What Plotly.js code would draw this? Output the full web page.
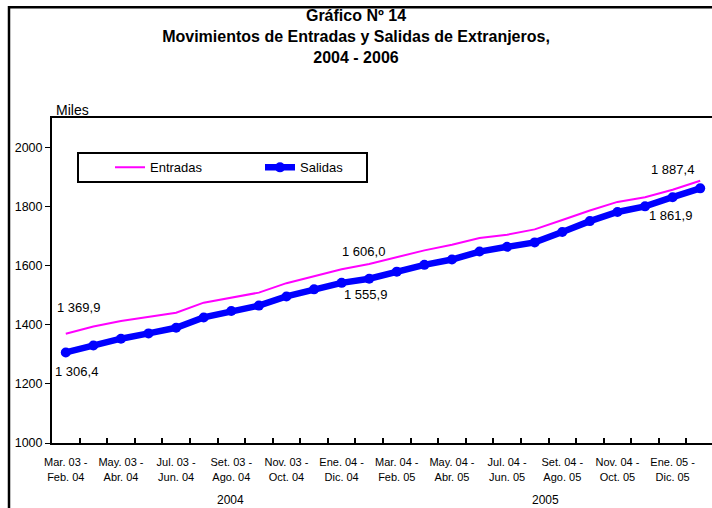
<!DOCTYPE html>
<html>
<head>
<meta charset="utf-8">
<script src="https://cdn.plot.ly/plotly-3.0.1.min.js"></script>
<style>
  html, body { margin: 0; padding: 0; background: #fff; overflow: hidden; }
  #chart { width: 716px; height: 508px; }
</style>
</head>
<body>
<div id="chart"></div>
<script>
// ---- Data ----
const categories = [
  'Mar. 03 - Feb. 04', 'Abr. 03 - Mar. 04', 'May. 03 - Abr. 04', 'Jun. 03 - May. 04',
  'Jul. 03 - Jun. 04', 'Ago. 03 - Jul. 04', 'Set. 03 - Ago. 04', 'Oct. 03 - Set. 04',
  'Nov. 03 - Oct. 04', 'Dic. 03 - Nov. 04', 'Ene. 04 - Dic. 04', 'Feb. 04 - Ene. 05',
  'Mar. 04 - Feb. 05', 'Abr. 04 - Mar. 05', 'May. 04 - Abr. 05', 'Jun. 04 - May. 05',
  'Jul. 04 - Jun. 05', 'Ago. 04 - Jul. 05', 'Set. 04 - Ago. 05', 'Oct. 04 - Set. 05',
  'Nov. 04 - Oct. 05', 'Dic. 04 - Nov. 05', 'Ene. 05 - Dic. 05', 'Feb. 05 - Ene. 06'
];
const entradas = [1369.9, 1394, 1413, 1426, 1441, 1475, 1492, 1509, 1541, 1565, 1588, 1606.0,
                  1630, 1652, 1671, 1694, 1705, 1723, 1755, 1787, 1816, 1832, 1857, 1887.4];
const salidas  = [1306.4, 1330, 1353, 1371, 1390, 1425, 1447, 1465, 1496, 1520, 1542, 1555.9,
                  1580, 1603, 1621, 1648, 1664, 1679, 1714, 1751, 1782, 1801, 1832, 1861.9];
const yTicks = [1000, 1200, 1400, 1600, 1800, 2000];
const yearLabels = ['2004', '2005'];
const labelIdx = [0, 11, 23];

// ---- Helpers ----
function fmt(v) {
  const parts = v.toFixed(1).split('.');
  const intPart = parts[0].replace(/\B(?=(\d{3})+(?!\d))/g, ' ');
  return intPart + ',' + parts[1];
}
const tickText = categories.map((c, i) => {
  if (i % 2 !== 0) return '';
  const p = c.split(' - ');
  return p[0] + ' -<br>' + p[1];
});

const FONT = '"Liberation Sans", Arial, sans-serif';
// plot area in pixels (for paper-coordinate conversion of decorations)
const PL = 52, PW = 662, PT = 118, PH = 325.5;
const px = v => (v - PL) / PW;
const py = v => (PT + PH - v) / PH;

const traces = [
  {
    x: categories, y: entradas, name: 'Entradas', type: 'scatter', mode: 'lines',
    line: { color: '#FF00FF', width: 2 }
  },
  {
    x: categories, y: salidas, name: 'Salidas', type: 'scatter', mode: 'lines+markers',
    line: { color: '#0000FF', width: 6.5 },
    marker: { color: '#0000FF', size: 10 }
  }
];

// data label placements (style only)
const labelStyle = {
  0:  { e: { xanchor: 'left', xshift: -11, yshift: 26 },   s: { xanchor: 'left', xshift: -13, yshift: -19 } },
  11: { e: { xanchor: 'center', xshift: -6, yshift: 12 },  s: { xanchor: 'center', xshift: -4, yshift: -16 } },
  23: { e: { xanchor: 'right', xshift: -4, yshift: 11 },   s: { xanchor: 'right', xshift: -6, yshift: -27 } }
};

const LBL = { family: FONT, size: 13, color: '#000' };
const annotations = [];
labelIdx.forEach(i => {
  const st = labelStyle[i];
  annotations.push(Object.assign({
    x: categories[i], y: entradas[i], xref: 'x', yref: 'y', text: fmt(entradas[i]),
    showarrow: false, yanchor: 'middle', font: LBL
  }, st.e));
  annotations.push(Object.assign({
    x: categories[i], y: salidas[i], xref: 'x', yref: 'y', text: fmt(salidas[i]),
    showarrow: false, yanchor: 'middle', font: LBL
  }, st.s));
});

// Miles label
annotations.push({
  text: 'Miles', xref: 'paper', yref: 'paper', x: px(54), y: py(110),
  xanchor: 'left', yanchor: 'middle', showarrow: false,
  font: { family: FONT, size: 14, color: '#000' }
});
// year labels
const yearPx = [230, 545];
yearLabels.forEach((t, k) => {
  annotations.push({
    text: t, xref: 'paper', yref: 'paper', x: px(yearPx[k]), y: py(501),
    xanchor: 'center', yanchor: 'middle', showarrow: false,
    font: { family: FONT, size: 12, color: '#000' }
  });
});

const layout = {
  width: 716, height: 508,
  margin: { l: 52, r: 2, t: 118, b: 64.5 },
  paper_bgcolor: '#fff', plot_bgcolor: '#fff',
  font: { family: FONT, color: '#000' },
  title: {
    text: 'Gráfico Nº 14<br>Movimientos de Entradas y Salidas de Extranjeros,<br>2004 - 2006',
    font: { family: FONT, size: 16, weight: 'bold', color: '#000' },
    x: 356 / 716, xanchor: 'center', xref: 'container',
    y: 1 - 21 / 508, yanchor: 'top', yref: 'container'
  },
  showlegend: true,
  legend: {
    orientation: 'h', x: px(110), xanchor: 'left', y: py(167.5), yanchor: 'middle',
    borderwidth: 0, bgcolor: 'rgba(0,0,0,0)',
    font: { family: FONT, size: 13, color: '#000' },
    entrywidth: 105, entrywidthmode: 'pixels', traceorder: 'normal'
  },
  xaxis: {
    type: 'category', categoryorder: 'array', categoryarray: categories,
    range: [-0.5, categories.length - 0.5],
    tickmode: 'array', tickvals: categories, ticktext: tickText,
    tickson: 'boundaries', ticks: 'inside', ticklen: 5, tickwidth: 2, tickcolor: '#000',
    showline: true, linecolor: '#000', linewidth: 2, mirror: true,
    showgrid: false, zeroline: false, tickangle: 0, ticklabelstandoff: 8,
    tickfont: { family: FONT, size: 11, color: '#000' }
  },
  yaxis: {
    range: [1000, 2100], tickmode: 'array', tickvals: yTicks, ticktext: yTicks.map(String),
    ticks: 'outside', ticklen: 5, tickwidth: 1, tickcolor: '#000',
    showline: true, linecolor: '#000', linewidth: 2, mirror: true,
    showgrid: false, zeroline: false,
    tickfont: { family: FONT, size: 12.5, color: '#000' }
  },
  annotations: annotations,
  shapes: [
    // outer chart frame
    { type: 'rect', xref: 'paper', yref: 'paper',
      x0: px(9), x1: 1.2, y0: -0.4, y1: py(7),
      line: { color: '#000', width: 2.5 }, fillcolor: 'rgba(0,0,0,0)', layer: 'below' },
    // legend box
    { type: 'rect', xref: 'paper', yref: 'paper',
      x0: px(78), x1: px(367), y0: py(182), y1: py(153),
      line: { color: '#000', width: 2 }, fillcolor: 'rgba(0,0,0,0)', layer: 'above' }
  ]
};

Plotly.newPlot('chart', traces, layout, { displayModeBar: false, staticPlot: true });
</script>
</body>
</html>
